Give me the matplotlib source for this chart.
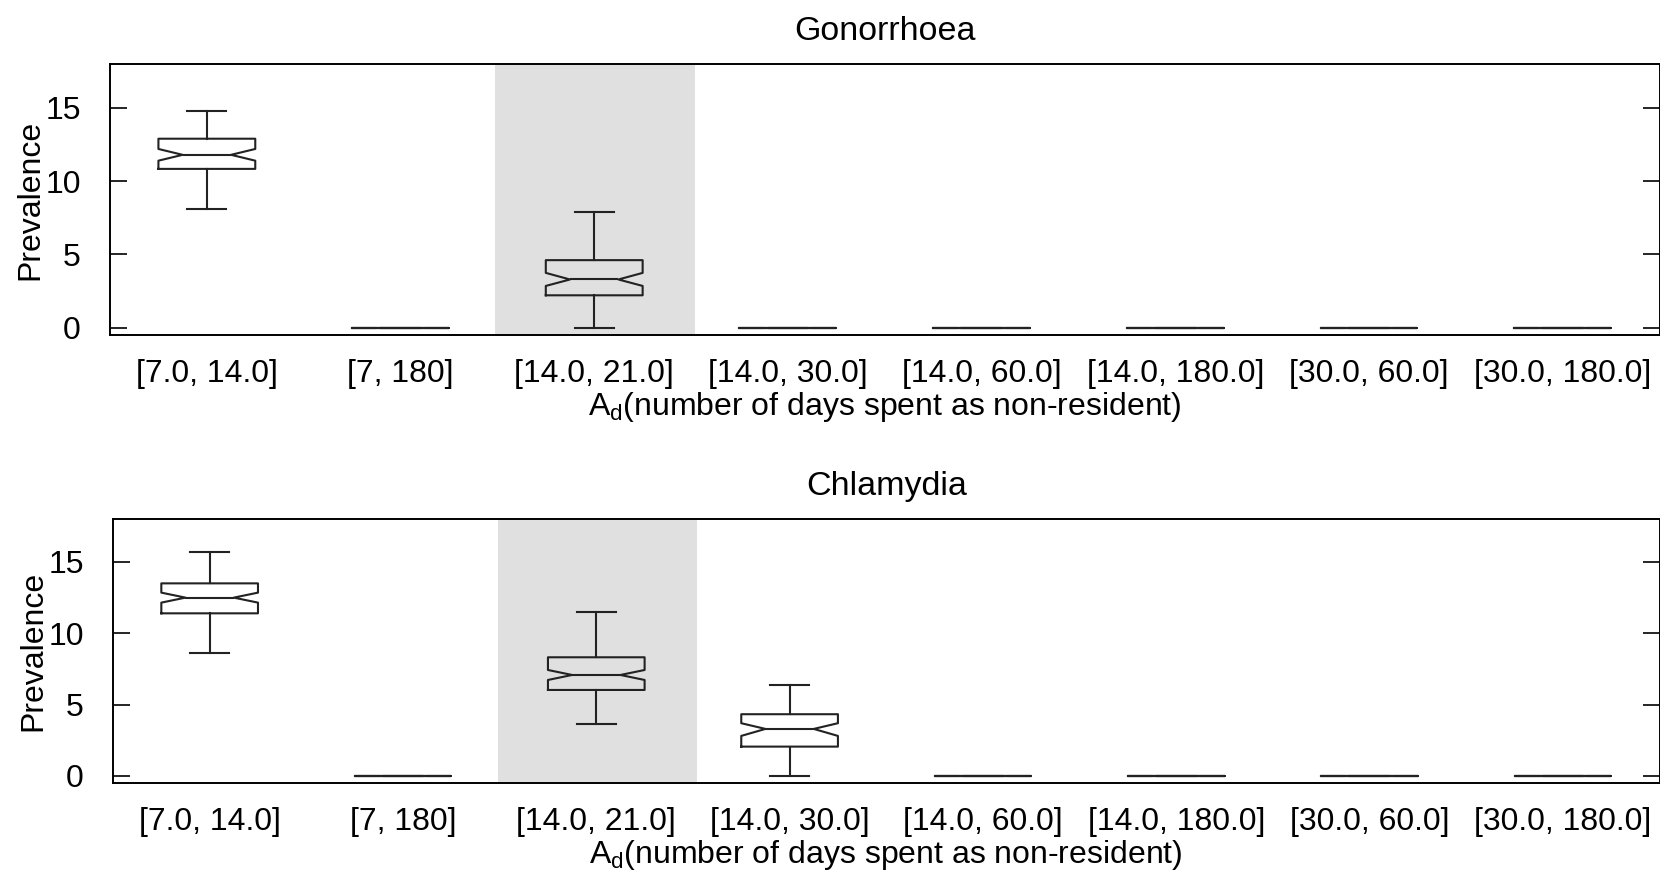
"""
Notched box plots of prevalence by non-resident duration window
(Gonorrhoea on top, Chlamydia below)
"""

import numpy as np
import matplotlib.pyplot as plt

plt.rcParams['font.family'] = ['Liberation Sans', 'DejaVu Sans']
plt.rcParams['mathtext.fontset'] = 'custom'
plt.rcParams['mathtext.rm'] = 'Liberation Sans'
plt.rcParams['mathtext.it'] = 'Liberation Sans'

categories = ['[7.0, 14.0]', '[7, 180]', '[14.0, 21.0]', '[14.0, 30.0]',
              '[14.0, 60.0]', '[14.0, 180.0]', '[30.0, 60.0]', '[30.0, 180.0]']
highlight = 2  # shaded category

# Gonorrhoea box stats
gon_whislo = [8.1, 0, 0.0, 0, 0, 0, 0, 0]
gon_q1 = [10.84, 0, 2.21, 0, 0, 0, 0, 0]
gon_med = [11.8, 0, 3.29, 0, 0, 0, 0, 0]
gon_q3 = [12.9, 0, 4.61, 0, 0, 0, 0, 0]
gon_whishi = [14.78, 0, 7.88, 0, 0, 0, 0, 0]
gon_cilo = [11.4, 0, 2.85, 0, 0, 0, 0, 0]
gon_cihi = [12.2, 0, 3.74, 0, 0, 0, 0, 0]

# Chlamydia box stats
chl_whislo = [8.59, 0, 3.62, 0.0, 0, 0, 0, 0]
chl_q1 = [11.39, 0, 6.02, 2.05, 0, 0, 0, 0]
chl_med = [12.49, 0, 7.07, 3.29, 0, 0, 0, 0]
chl_q3 = [13.49, 0, 8.31, 4.32, 0, 0, 0, 0]
chl_whishi = [15.66, 0, 11.46, 6.37, 0, 0, 0, 0]
chl_cilo = [12.14, 0, 6.72, 2.80, 0, 0, 0, 0]
chl_cihi = [12.84, 0, 7.42, 3.69, 0, 0, 0, 0]


def make_stats(lo, q1, med, q3, hi, cilo, cihi):
    return [dict(whislo=a, q1=b, med=c, q3=d, whishi=e, cilo=f, cihi=g, fliers=[])
            for a, b, c, d, e, f, g in zip(lo, q1, med, q3, hi, cilo, cihi)]


panels = [
    ('Gonorrhoea', make_stats(gon_whislo, gon_q1, gon_med, gon_q3, gon_whishi, gon_cilo, gon_cihi),
     [110 / 1660, 1 - 335 / 874, 1549.5 / 1660, 271 / 874]),
    ('Chlamydia', make_stats(chl_whislo, chl_q1, chl_med, chl_q3, chl_whishi, chl_cilo, chl_cihi),
     [113 / 1660, 1 - 783 / 874, 1546.5 / 1660, 264 / 874]),
]

fig = plt.figure(figsize=(16.6, 8.74), dpi=100)
lc = '#222222'
lw = 1.5
positions = np.arange(len(categories))

for title, stats, rect in panels:
    ax = fig.add_axes(rect)
    ax.axvspan(highlight - 0.51, highlight + 0.52, color='#e0e0e0', lw=0, zorder=0)
    line_kw = dict(color=lc, linewidth=lw)
    ax.bxp(stats, positions=positions, widths=0.5, capwidths=0.2,
           shownotches=True, showfliers=False, patch_artist=False,
           boxprops=line_kw, whiskerprops=line_kw, capprops=line_kw,
           medianprops=line_kw, manage_ticks=False)

    ax.set_xlim(-0.5, 7.5)
    ax.set_ylim(-0.5, 18)
    ax.set_yticks([0, 5, 10, 15])
    ax.set_xticks(positions)
    ax.set_xticklabels(categories)
    ax.tick_params(axis='y', direction='in', length=12, width=1.2,
                   labelsize=23, pad=21, left=True, right=True)
    ax.tick_params(axis='x', length=0, labelsize=23, pad=17)
    for s in ax.spines.values():
        s.set_linewidth(1.4)
    ax.set_title(title, fontsize=24.5, pad=17)
    ax.set_ylabel('Prevalence', fontsize=23, labelpad=0)
    ax.set_xlabel(r'A$_{\mathregular{d}}$(number of days spent as non-resident)',
                  fontsize=23, labelpad=1)

fig.savefig('out.png', dpi=100)
